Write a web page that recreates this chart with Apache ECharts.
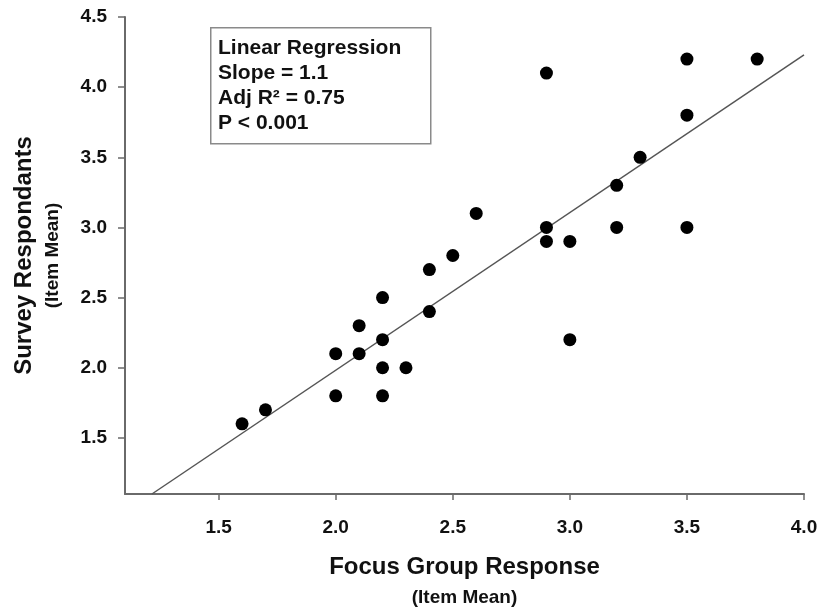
<!DOCTYPE html>
<html>
<head>
<meta charset="utf-8">
<script src="https://cdn.jsdelivr.net/npm/echarts@6/dist/echarts.min.js"></script>
<style>
html,body{margin:0;padding:0;background:#fff;}
#chart{width:825px;height:614px;}
</style>
</head>
<body>
<div id="chart"></div>
<script>
// Data
var focusGroup = [1.6, 1.7, 2.0, 2.0, 2.1, 2.1, 2.2, 2.2, 2.2, 2.2, 2.3, 2.4, 2.4, 2.5, 2.6, 2.9, 2.9, 2.9, 3.0, 3.0, 3.2, 3.2, 3.3, 3.5, 3.5, 3.5, 3.8];
var survey     = [1.6, 1.7, 2.1, 1.8, 2.3, 2.1, 2.5, 2.2, 2.0, 1.8, 2.0, 2.7, 2.4, 2.8, 3.1, 4.1, 3.0, 2.9, 2.9, 2.2, 3.3, 3.0, 3.5, 4.2, 3.8, 3.0, 4.2];
var regX = [1.215, 4.0];
var regY = [1.1, 4.23];
var xTicks = [1.5, 2.0, 2.5, 3.0, 3.5, 4.0];
var yTicks = [1.5, 2.0, 2.5, 3.0, 3.5, 4.0, 4.5];
var annotationLines = ['Linear Regression', 'Slope = 1.1', 'Adj R\u00B2 = 0.75', 'P < 0.001'];

var FONT = '"Liberation Sans", Arial, sans-serif';
var points = focusGroup.map(function (x, i) { return [x, survey[i]]; });
var regLine = regX.map(function (x, i) { return [x, regY[i]]; });

var chart = echarts.init(document.getElementById('chart'), null, {renderer: 'canvas'});
var axisColor = '#6a6a6a';
chart.setOption({
  animation: false,
  backgroundColor: '#ffffff',
  grid: {left: 125, right: 21, top: 17, bottom: 120},
  xAxis: {
    type: 'value', min: 1.1, max: 4.0,
    name: '{a|Focus Group Response}\n{b|(Item Mean)}',
    nameLocation: 'middle', nameGap: 58,
    nameTextStyle: {
      rich: {
        a: {fontSize: 24, fontWeight: 'bold', fontFamily: FONT, color: '#111', lineHeight: 30, align: 'center'},
        b: {fontSize: 19, fontWeight: 'bold', fontFamily: FONT, color: '#111', lineHeight: 32, align: 'center'}
      }
    },
    splitLine: {show: false},
    axisLine: {show: true, onZero: false, lineStyle: {color: axisColor, width: 2}},
    axisTick: {show: true, length: 6, customValues: xTicks, lineStyle: {color: axisColor, width: 1.5}},
    axisLabel: {customValues: xTicks, margin: 24, fontSize: 19, fontWeight: 'bold', fontFamily: FONT, color: '#111',
      formatter: function (v) { return v.toFixed(1); }}
  },
  yAxis: {
    type: 'value', min: 1.1, max: 4.5,
    name: '{a|Survey Respondants}\n{b|(Item Mean)}',
    nameLocation: 'middle', nameGap: 58, nameRotate: 90,
    nameTextStyle: {
      rich: {
        a: {fontSize: 24, fontWeight: 'bold', fontFamily: FONT, color: '#111', lineHeight: 30, align: 'center'},
        b: {fontSize: 19, fontWeight: 'bold', fontFamily: FONT, color: '#111', lineHeight: 28, align: 'center'}
      }
    },
    splitLine: {show: false},
    axisLine: {show: true, onZero: false, lineStyle: {color: axisColor, width: 2}},
    axisTick: {show: true, length: 7, customValues: yTicks, lineStyle: {color: axisColor, width: 1.5}},
    axisLabel: {customValues: yTicks, margin: 18, fontSize: 19, fontWeight: 'bold', fontFamily: FONT, color: '#111',
      formatter: function (v) { return v.toFixed(1); }}
  },
  series: [
    {
      type: 'line', data: regLine, showSymbol: false, symbol: 'none',
      lineStyle: {color: '#555', width: 1.5}, z: 2, silent: true
    },
    {
      type: 'scatter', data: points, symbol: 'circle', symbolSize: 13,
      itemStyle: {color: '#000', opacity: 1}, z: 3
    }
  ],
  graphic: [
    {
      type: 'rect', left: 210, top: 27, z: 10,
      shape: {width: 220, height: 116},
      style: {fill: '#fff', stroke: '#8a8a8a', lineWidth: 1.5}
    },
    {
      type: 'text', left: 218, top: 36, z: 11,
      style: {
        text: annotationLines.join('\n'),
        font: 'bold 21px ' + FONT, fill: '#111', lineHeight: 25
      }
    }
  ]
});
</script>
</body>
</html>
